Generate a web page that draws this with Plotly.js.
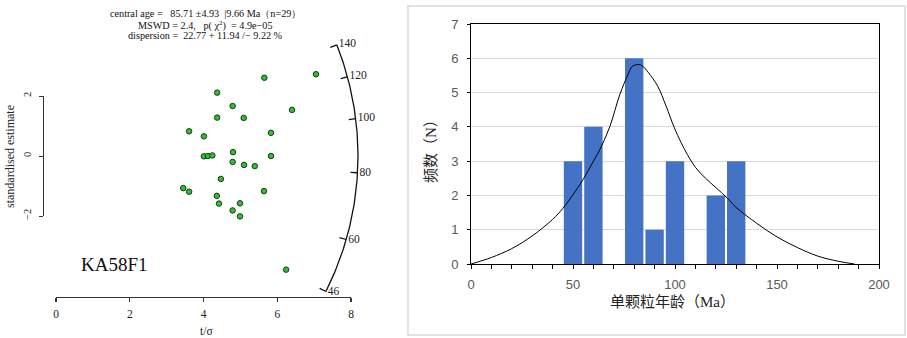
<!DOCTYPE html>
<html><head><meta charset="utf-8">
<script src="https://cdn.plot.ly/plotly-3.0.1.min.js"></script>
<style>html,body{margin:0;padding:0;background:#fff}#chart{width:907px;height:338px}</style>
</head><body><div id="chart"></div>
<script>
// ---------- radial plot (left) ----------
const tOverSigma = [5.65,7.05,4.37,4.79,6.40,4.37,5.09,3.61,5.83,4.01,4.80,4.01,4.12,4.24,5.83,4.79,5.10,5.39,4.47,3.45,3.61,5.64,4.36,4.42,4.99,4.79,4.99,6.24];
const stdEstimate = [2.63,2.75,2.13,1.68,1.55,1.29,1.28,0.83,0.78,0.66,0.13,-0.01,0.00,0.02,0.00,-0.20,-0.30,-0.34,-0.77,-1.08,-1.20,-1.18,-1.34,-1.60,-1.59,-1.83,-2.03,-3.82];
const arcAges = [46, 60, 80, 100, 120, 140];
const centralAge = 85.71;
const sampleName = 'KA58F1';
const statLines = [
  'central age =   85.71 ±4.93  |9.66 Ma（n=29）',
  'MSWD = 2.4,   p( χ<sup>2</sup>)  = 4.9e−05',
  'dispersion =  22.77 + 11.94 /− 9.22 %'
];
const xTicksLeft = [0, 2, 4, 6, 8];
const yTicksLeft = [-2, 0, 2];

// ---------- histogram (right) ----------
const binCenters = [50, 60, 70, 80, 90, 100, 110, 120, 130];
const binCounts  = [3, 4, 0, 6, 1, 3, 0, 2, 3];
const curveAge  = [0, 10, 20, 30, 40, 45, 50, 55, 60, 63, 68, 73, 77, 79, 82, 84, 87, 91.5, 95.6, 99.7, 103, 106, 110, 115, 120, 125.5, 130, 140, 150, 160, 170, 180, 188];
const curveFreq = [0, 0.19, 0.45, 0.82, 1.30, 1.62, 2.02, 2.47, 3.0, 3.32, 4.0, 4.95, 5.53, 5.76, 5.82, 5.78, 5.58, 5.19, 4.61, 3.97, 3.54, 3.20, 2.82, 2.50, 2.23, 1.93, 1.65, 1.19, 0.79, 0.48, 0.23, 0.08, 0];

// ---------- geometry helpers ----------
const W = 907, H = 338;
const pxX = v => v / W, pxY = v => 1 - v / H;
const X0 = 56, X8 = 351, Y0 = 156;
const sx = (X8 - X0) / 8;      // px per unit (t/sigma)
const sy = 29.75;              // px per unit (standardised estimate)
const R = 302, tickLen = 7, labOff = 2;

function arcPt(t, r) {
  const s = Math.log(t) - Math.log(centralAge);
  const dx = sx, dy = s * sy, n = Math.hypot(dx, dy);
  return [r * dx / n / sx, r * dy / n / sy];
}
const arcX = [], arcY = [];
const aMin = Math.min(...arcAges), aMax = Math.max(...arcAges);
for (let i = 0; i <= 120; i++) {
  const t = aMin * Math.pow(aMax / aMin, i / 120);
  const p = arcPt(t, R); arcX.push(p[0]); arcY.push(p[1]);
}
const tkX = [], tkY = [], lbX = [], lbY = [];
arcAges.forEach(t => {
  const a = arcPt(t, R), b = arcPt(t, R - tickLen), c = arcPt(t, R + labOff);
  tkX.push(a[0], b[0], null); tkY.push(a[1], b[1], null);
  lbX.push(c[0]); lbY.push(c[1]);
});

const serif = 'Liberation Serif, Times New Roman, serif';
const sans = 'Liberation Sans, Arial, sans-serif';
const cjk = 'Liberation Serif, Noto Sans CJK SC, serif';

const traces = [
  {x: [1], y: [0], xaxis: 'x', yaxis: 'y', mode: 'markers', marker: {size: 1, opacity: 0}, showlegend: false, hoverinfo: 'skip'},
  {x: arcX, y: arcY, xaxis: 'x2', yaxis: 'y2', mode: 'lines', line: {color: '#111', width: 1.3}, showlegend: false, hoverinfo: 'skip'},
  {x: tkX, y: tkY, xaxis: 'x2', yaxis: 'y2', mode: 'lines', line: {color: '#111', width: 1.3}, showlegend: false, hoverinfo: 'skip'},
  {x: lbX, y: lbY, xaxis: 'x2', yaxis: 'y2', mode: 'text', text: arcAges.map(String), textposition: 'middle right',
   textfont: {family: serif, size: 11.5, color: '#222'}, showlegend: false, cliponaxis: false, hoverinfo: 'skip'},
  {x: tOverSigma, y: stdEstimate, xaxis: 'x2', yaxis: 'y2', mode: 'markers',
   marker: {size: 5.5, color: '#2fbf2f', line: {color: '#1a3a1a', width: 1}}, showlegend: false, cliponaxis: false},
  {x: binCenters, y: binCounts, xaxis: 'x3', yaxis: 'y3', type: 'bar', width: 9,
   marker: {color: '#4472C4', line: {width: 0}}, showlegend: false},
  {x: curveAge, y: curveFreq, xaxis: 'x3', yaxis: 'y3', mode: 'lines',
   line: {color: '#000', width: 1, shape: 'spline', smoothing: 1}, showlegend: false}
];

const ann = [];
[14, 25, 36].forEach((yy, i) => ann.push({xref: 'paper', yref: 'paper', x: pxX(205), y: pxY(yy), text: statLines[i],
  showarrow: false, xanchor: 'center', yanchor: 'middle', font: {family: serif, size: 10.2, color: '#111'}}));
ann.push({xref: 'paper', yref: 'paper', x: pxX(115), y: pxY(264), text: sampleName, showarrow: false,
  xanchor: 'center', yanchor: 'middle', font: {family: serif, size: 19, color: '#111'}});
ann.push({xref: 'paper', yref: 'paper', x: pxX(206), y: pxY(331), text: 't/σ', showarrow: false,
  xanchor: 'center', yanchor: 'middle', font: {family: serif, size: 11.5, color: '#222'}});
ann.push({xref: 'paper', yref: 'paper', x: pxX(10), y: pxY(157), text: 'standardised estimate', showarrow: false, textangle: -90,
  xanchor: 'center', yanchor: 'middle', font: {family: serif, size: 12, color: '#222'}});
ann.push({xref: 'paper', yref: 'paper', x: pxX(431), y: pxY(148), text: '频数（N）', showarrow: false, textangle: -90,
  xanchor: 'center', yanchor: 'middle', font: {family: cjk, size: 15, color: '#222'}});
ann.push({xref: 'paper', yref: 'paper', x: pxX(672), y: pxY(302), text: '单颗粒年龄（Ma）', showarrow: false,
  xanchor: 'center', yanchor: 'middle', font: {family: cjk, size: 15, color: '#222'}});

const layout = {
  width: W, height: H, margin: {l: 0, r: 0, t: 0, b: 0, pad: 0},
  paper_bgcolor: '#fff', plot_bgcolor: 'rgba(0,0,0,0)', showlegend: false,
  xaxis: {domain: [pxX(X0), pxX(X8)], range: [0, 8], anchor: 'free', position: pxY(296.5),
    showline: true, linecolor: '#333', linewidth: 1.6, ticks: 'outside', ticklen: 4, tickcolor: '#333', tickwidth: 1.4,
    tickmode: 'array', tickvals: xTicksLeft, ticktext: xTicksLeft.map(String), showgrid: false, zeroline: false,
    tickfont: {family: serif, size: 11.5, color: '#222'}, ticklabelstandoff: 2, fixedrange: true},
  yaxis: {domain: [pxY(216), pxY(96)], range: [-2, 2], anchor: 'free', position: pxX(43),
    showline: true, linecolor: '#333', linewidth: 1, ticks: 'outside', ticklen: 4, tickcolor: '#333',
    tickmode: 'array', tickvals: yTicksLeft, ticktext: yTicksLeft.map(v => v < 0 ? '−' + (-v) : String(v)),
    tickangle: -90, showgrid: false, zeroline: false, tickfont: {family: serif, size: 10.5, color: '#222'}, ticklabelstandoff: 4},
  xaxis2: {domain: [0, pxX(400)], range: [(0 - X0) / sx, (400 - X0) / sx], anchor: 'y2', visible: false, fixedrange: true},
  yaxis2: {domain: [0, 1], range: [(Y0 - H) / sy, Y0 / sy], anchor: 'x2', visible: false, fixedrange: true},
  xaxis3: {domain: [pxX(471), pxX(879)], range: [0, 200], anchor: 'y3',
    showline: true, mirror: true, linecolor: '#000', linewidth: 1, ticks: 'outside', ticklen: 4, tickcolor: '#000',
    dtick: 50, tick0: 0, showgrid: false, zeroline: false,
    minor: {dtick: 10, ticks: 'outside', ticklen: 4, tickcolor: '#000', showgrid: false},
    tickfont: {family: sans, size: 13, color: '#595959'}, ticklabelstandoff: 4},
  yaxis3: {domain: [pxY(264), pxY(24)], range: [0, 7], anchor: 'x3',
    showline: true, mirror: true, linecolor: '#000', linewidth: 1, ticks: 'outside', ticklen: 3, tickcolor: '#000',
    dtick: 1, showgrid: true, gridcolor: '#d9d9d9', gridwidth: 1, zeroline: false,
    tickfont: {family: sans, size: 13, color: '#595959'}, ticklabelstandoff: 6},
  shapes: [{type: 'rect', xref: 'paper', yref: 'paper', x0: pxX(408), x1: pxX(905), y0: pxY(335), y1: pxY(6),
    line: {color: '#d9d9d9', width: 1.5}, fillcolor: 'rgba(0,0,0,0)', layer: 'below'}],
  annotations: ann
};

Plotly.newPlot('chart', traces, layout, {staticPlot: true, displayModeBar: false});
</script>
</body></html>
